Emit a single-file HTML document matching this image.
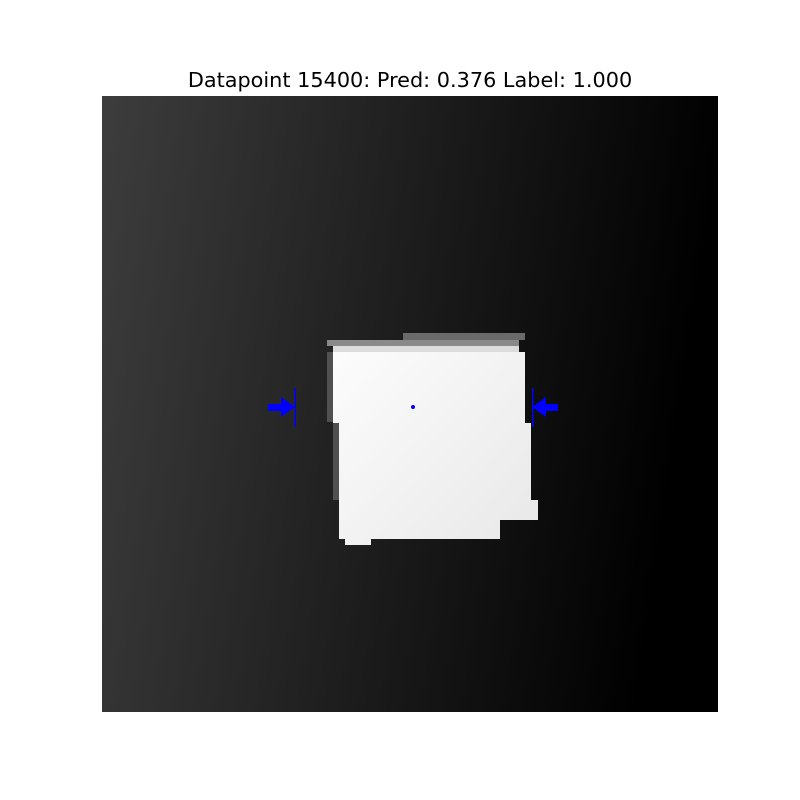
<!DOCTYPE html>
<html><head><meta charset="utf-8"><style>
body{margin:0;background:#fff;width:800px;height:800px;overflow:hidden}
svg{display:block}
</style></head><body>
<svg width="800" height="800">
<defs>
<linearGradient id="bg" x1="0" y1="0" x2="1" y2="0.15">
<stop offset="0" stop-color="#3d3d3d"/><stop offset="1" stop-color="#000"/>
</linearGradient>
<linearGradient id="sq" gradientUnits="userSpaceOnUse" x1="330" y1="340" x2="540" y2="540">
<stop offset="0" stop-color="#fdfdfd"/><stop offset="1" stop-color="#e8e8e8"/>
</linearGradient>
</defs>
<text x="410" y="87" text-anchor="middle" font-family="DejaVu Sans, Liberation Sans, sans-serif" font-size="20.8" fill="#000">Datapoint 15400: Pred: 0.376 Label: 1.000</text>
<rect x="102" y="96" width="616" height="616" fill="url(#bg)"/>
<g fill="url(#sq)">
<rect x="403" y="333" width="122" height="7" fill="#6a6a6a"/>
<rect x="327" y="340" width="192" height="6" fill="#8a8a8a"/>
<rect x="333" y="346" width="186" height="6" fill="#dcdcdc"/>
<rect x="333" y="352" width="192" height="71"/>
<rect x="327" y="352" width="6" height="70" fill="#505050"/>
<rect x="339" y="423" width="192" height="77"/>
<rect x="333" y="423" width="6" height="77" fill="#505050"/>
<rect x="339" y="500" width="199" height="20"/>
<rect x="339" y="520" width="161" height="19"/>
<rect x="345" y="539" width="26" height="6"/>
</g>
<circle cx="413" cy="407" r="2" fill="#00f"/>
<g fill="#00f">
<rect x="268" y="404" width="14" height="7"/>
<polygon points="281,397 295,407 281,417"/>
<rect x="294.5" y="388" width="1.5" height="39"/>
</g>
<g fill="#00f">
<rect x="545" y="404" width="13" height="7"/>
<polygon points="546,397 532,407 546,417"/>
<rect x="532" y="388" width="1.5" height="39"/>
</g>
</svg>
</body></html>
